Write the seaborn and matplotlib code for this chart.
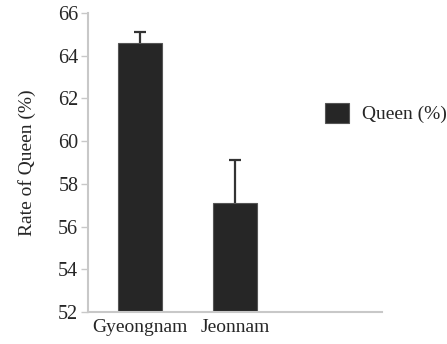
import numpy as np
import pandas as pd
import matplotlib
matplotlib.use('Agg')
import matplotlib.pyplot as plt
import seaborn as sns

regions = ['Gyeongnam', 'Jeonnam']
queen_rate = [64.6, 57.1]
queen_err = [0.5, 2.0]
slots = ['Gyeongnam', 'Jeonnam', ' ']
yticks = [52, 54, 56, 58, 60, 62, 64, 66]

sns.set_style('white')
plt.rcParams['font.family'] = ['Liberation Serif', 'DejaVu Serif']

df = pd.DataFrame({'region': regions, 'rate': queen_rate})

fig = plt.figure(figsize=(4.47, 3.44), dpi=100)
ax = fig.add_axes([0.197, 0.093, 0.658, 0.869])
sns.barplot(data=df, x='region', y='rate', order=slots, color='#262626',
            width=0.46, edgecolor='#555555', linewidth=0.8, saturation=1,
            label='Queen (%)', ax=ax)
eb = ax.errorbar(range(len(regions)), queen_rate,
                 yerr=[np.zeros(len(queen_err)), queen_err],
                 fmt='none', ecolor='#333333', elinewidth=1.6, capsize=4.5, capthick=1.6)
# only the upper cap is drawn in the original
eb[1][0].remove()

ax.set_ylim(52, 66)
ax.set_yticks(yticks)
ax.set_xlim(-0.55, 2.55)
ax.set_xlabel('')
ax.set_ylabel('Rate of Queen (%)', fontsize=14, labelpad=16)
ax.tick_params(axis='y', labelsize=14.5, length=5, width=1, color='#c8c8c8', left=True, pad=2)
ax.tick_params(axis='x', labelsize=14, length=0, pad=5)
for s in ['top', 'right']:
    ax.spines[s].set_visible(False)
for s in ['left', 'bottom']:
    ax.spines[s].set_color('#c8c8c8')
    ax.spines[s].set_linewidth(1.5)

ax.legend(loc='center left', bbox_to_anchor=(0.78, 0.666), frameon=False,
          fontsize=14, handlelength=1.2, handleheight=1.2, handletextpad=0.7,
          borderaxespad=0)

fig.savefig('out.png', dpi=100)
